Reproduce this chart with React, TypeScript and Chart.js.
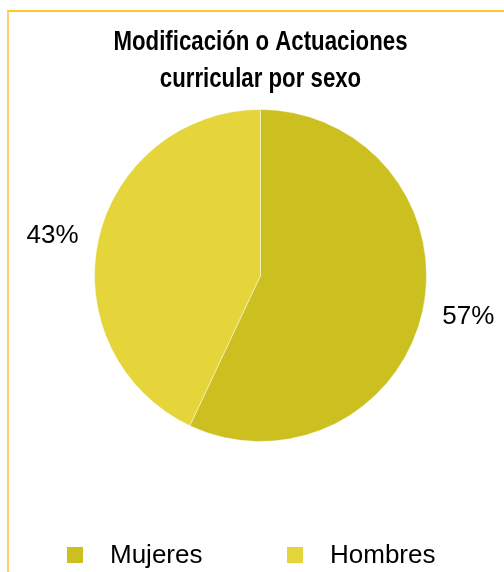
import React, { useEffect, useRef } from "react";
import { Chart, registerables } from "chart.js";

Chart.register(...registerables);

const categories = ["Mujeres", "Hombres"];
const values = [57, 43];
const colors = ["#CCBF20", "#E5D43A"];
const titleLines = ["Modificación o Actuaciones", "curricular por sexo"];

const overlayPlugin = {
  id: "overlay",
  afterDraw(chart: any) {
    const ctx = chart.ctx;
    ctx.save();
    // Title (narrow bold look via horizontal compression)
    ctx.fillStyle = "#000";
    ctx.textAlign = "center";
    ctx.textBaseline = "alphabetic";
    ctx.font = "bold 27px 'Liberation Sans', Arial, sans-serif";
    const w0 = ctx.measureText(titleLines[0]).width;
    const sx = 294 / w0;
    titleLines.forEach((line, i) => {
      ctx.save();
      ctx.translate(260.5, 49.5 + i * 37.5);
      ctx.scale(sx, 1);
      ctx.fillText(line, 0, 0);
      ctx.restore();
    });
    // Percent labels
    const meta = chart.getDatasetMeta(0);
    const total = values.reduce((a, b) => a + b, 0);
    ctx.font = "26px 'Liberation Sans', Arial, sans-serif";
    ctx.textBaseline = "middle";
    meta.data.forEach((arc: any, i: number) => {
      const p = arc.getProps(["x", "y", "startAngle", "endAngle", "outerRadius"], true);
      const mid = (p.startAngle + p.endAngle) / 2;
      const d = p.outerRadius + 47;
      const x = p.x + Math.cos(mid) * d;
      const y = p.y + Math.sin(mid) * d * 0.87;
      ctx.fillText(Math.round((values[i] / total) * 100) + "%", x, y + 1);
    });
    // Legend
    const boxTop = 547;
    const itemX = [67, 287];
    ctx.textAlign = "left";
    ctx.textBaseline = "alphabetic";
    categories.forEach((c, i) => {
      ctx.fillStyle = colors[i];
      ctx.fillRect(itemX[i], boxTop, 16, 16);
      ctx.fillStyle = "#000";
      ctx.fillText(c, itemX[i] + 43, 563);
    });
    ctx.restore();
  },
};

export default function App() {
  const ref = useRef<HTMLCanvasElement>(null);
  useEffect(() => {
    if (!ref.current) return;
    const chart = new Chart(ref.current, {
      type: "pie",
      data: {
        labels: categories,
        datasets: [
          {
            data: values,
            backgroundColor: colors,
            borderColor: "rgba(255,255,255,0.45)",
            borderWidth: 1,
          },
        ],
      },
      options: {
        responsive: true,
        maintainAspectRatio: false,
        animation: false,
        layout: { padding: { left: 94, right: 77, top: 109, bottom: 130 } },
        plugins: {
          legend: { display: false },
          title: { display: false },
          tooltip: { enabled: false },
        },
      },
      plugins: [overlayPlugin],
    });
    return () => chart.destroy();
  }, []);

  return (
    <div style={{ position: "fixed", left: 0, top: 0, width: 504, height: 572, background: "#fff", overflow: "hidden" }}>
      <div
        style={{
          position: "absolute",
          left: 7,
          top: 10,
          width: 600,
          height: 600,
          borderTop: "2px solid #FFC630",
          borderLeft: "2px solid #FFD070",
        }}
      />
      <div style={{ position: "absolute", left: 0, top: 0, width: 504, height: 572 }}>
        <canvas ref={ref} />
      </div>
    </div>
  );
}
